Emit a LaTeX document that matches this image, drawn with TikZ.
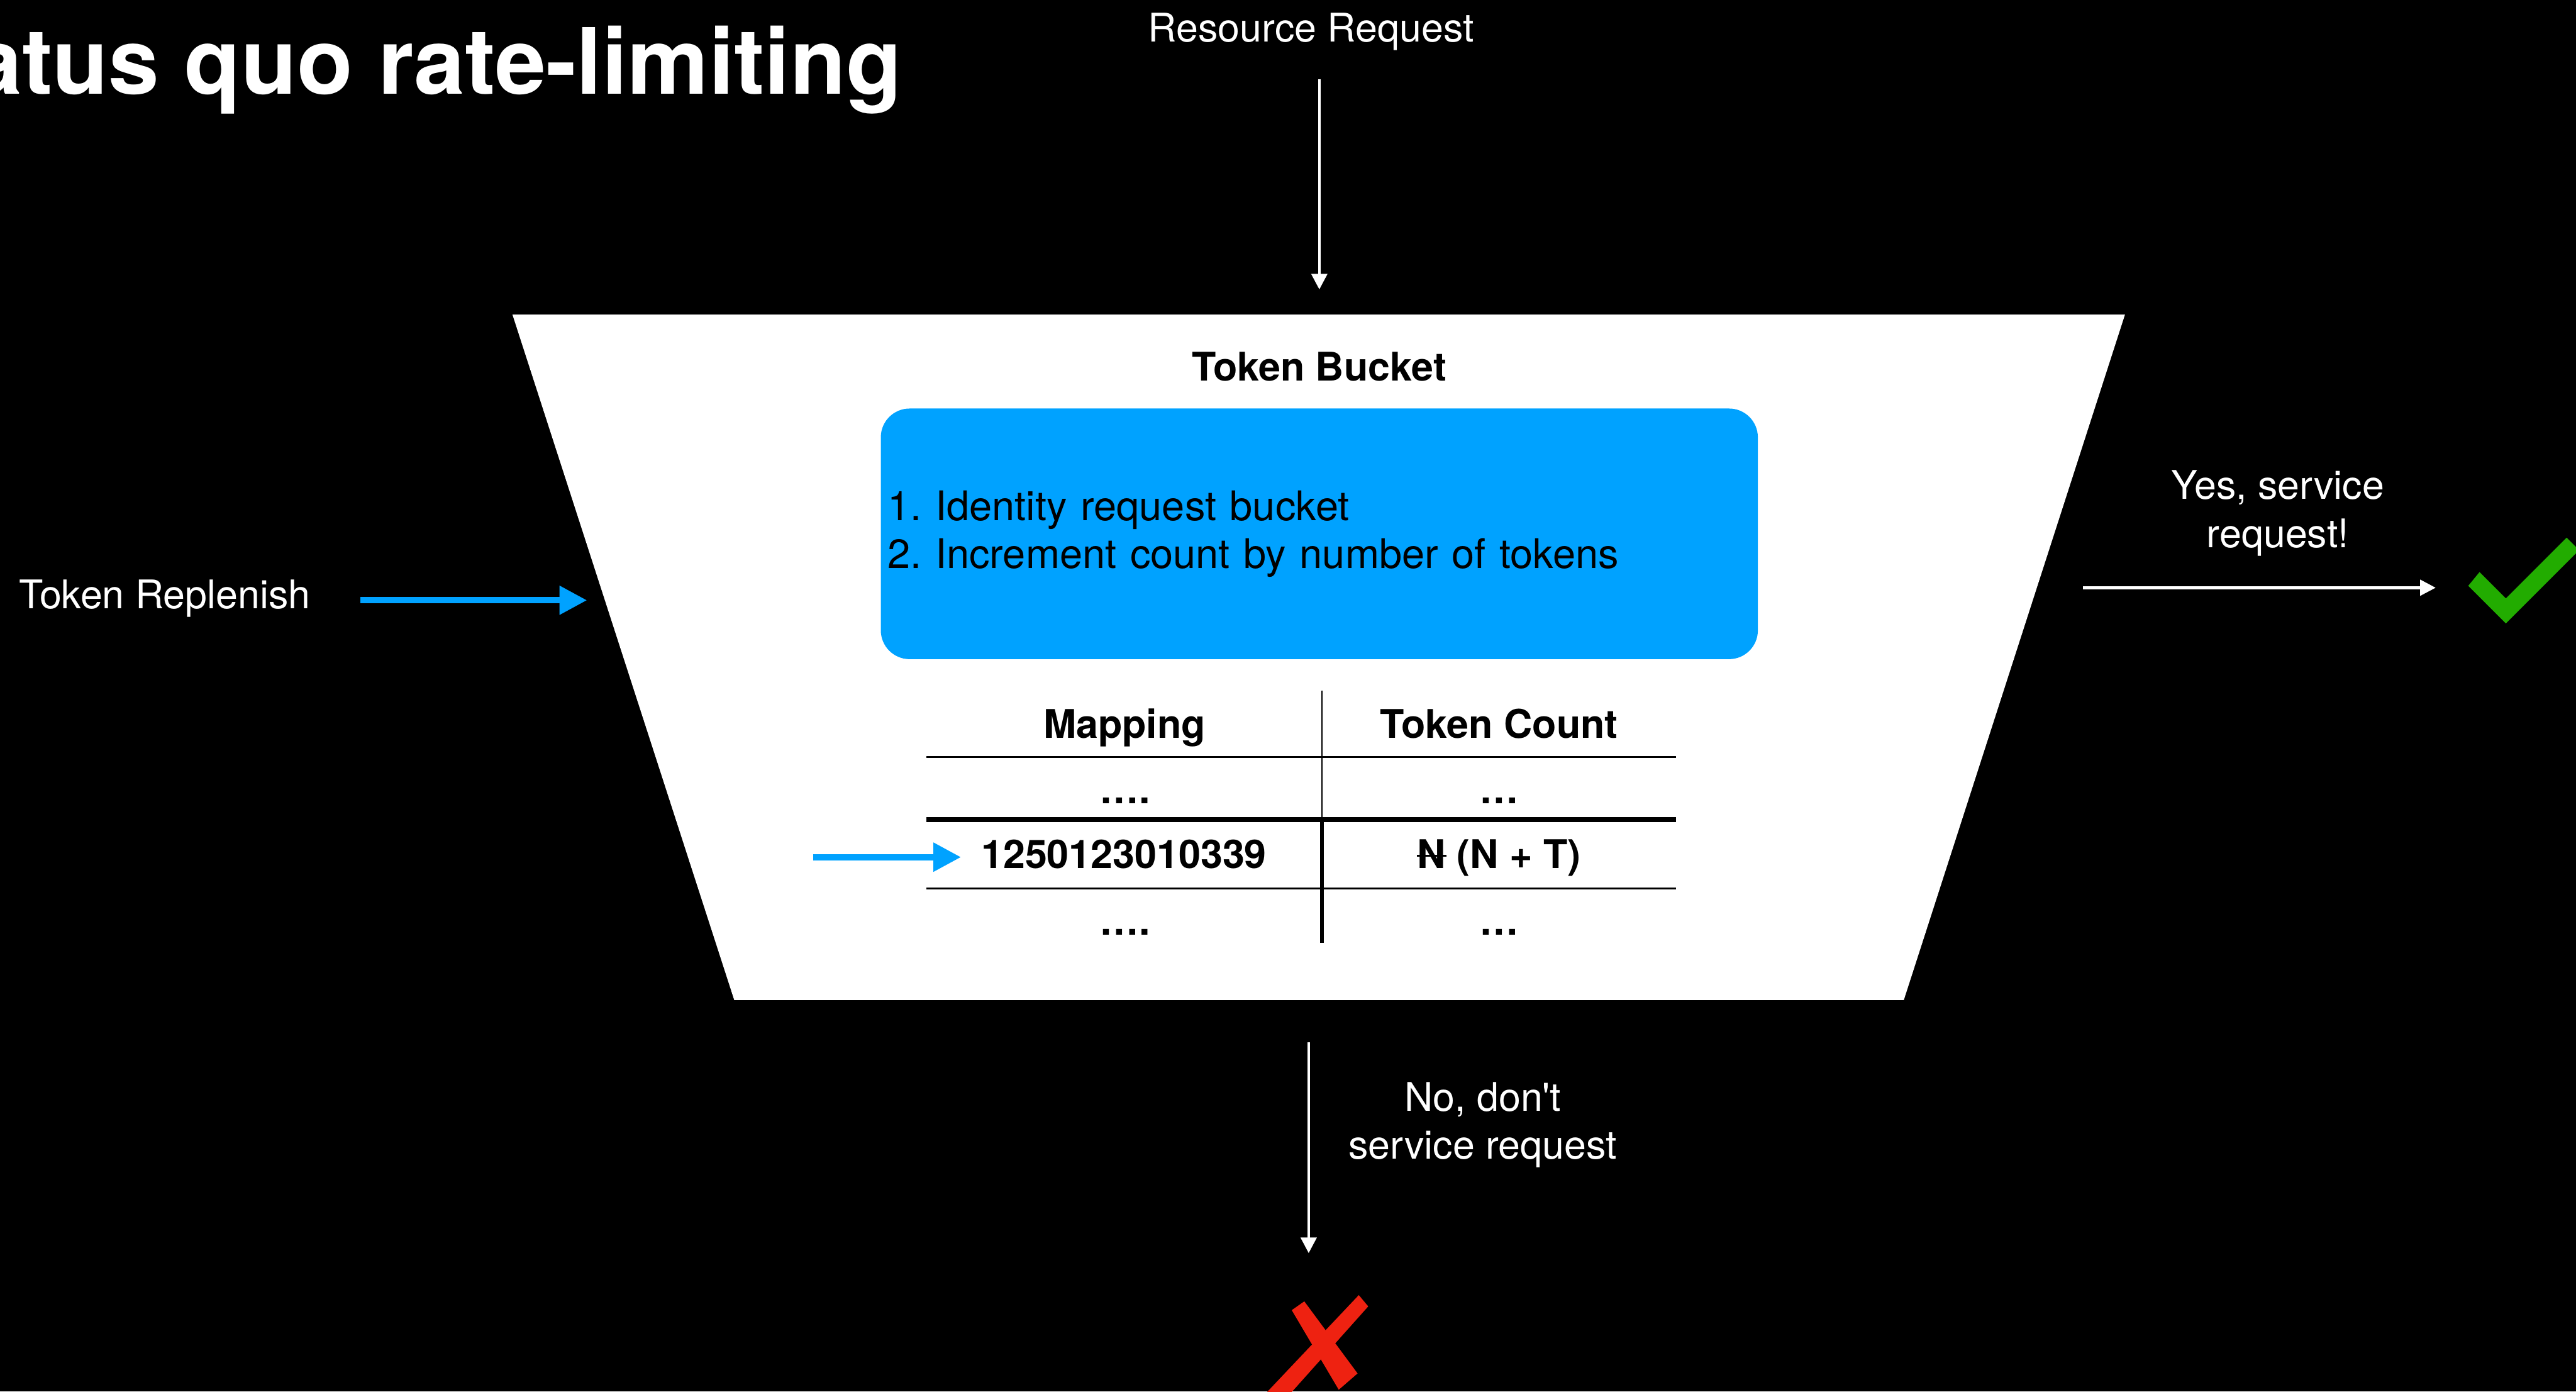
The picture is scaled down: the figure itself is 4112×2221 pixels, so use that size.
\documentclass[tikz,border=0pt]{standalone}
\usepackage{fontspec}
\setmainfont{TeX Gyre Heros}
\usetikzlibrary{arrows.meta}
\definecolor{kblue}{RGB}{0,162,255}
\definecolor{kgreen}{RGB}{34,172,0}
\definecolor{kred}{RGB}{238,34,17}
\frenchspacing
\begin{document}
\begin{tikzpicture}[x=0.5pt,y=-0.5pt,
  lbl/.style={text=white, font=\fontsize{31.5}{38.5}\selectfont, inner sep=0pt, anchor=base},
  hdr/.style={text=black, font=\bfseries\fontsize{31.5}{38}\selectfont, inner sep=0pt, anchor=base},
  warrow/.style={draw=white, line width=2.25pt, -{Triangle[length=12.5pt,width=12.5pt]}},
  barrow/.style={draw=kblue, line width=5pt, -{Triangle[length=22pt,width=22pt]}},
  thinrule/.style={draw=black, line width=1.2pt},
  thickrule/.style={draw=black, line width=3.8pt},
]
\fill[black] (0,0) rectangle (4112,2221);
\clip (0,0) rectangle (4112,2221);

% title
\node[anchor=base east, inner sep=0pt, text=white, font=\bfseries\fontsize{73}{88}\selectfont] (title) at (1440,150) {Status quo rate-limiting};

% bucket
\coordinate (bTL) at (818,502);
\coordinate (bTR) at (3392,502);
\coordinate (bBR) at (3039,1596);
\coordinate (bBL) at (1172,1596);
\fill[white] (bTL) -- (bTR) -- (bBR) -- (bBL) -- cycle;

\node[hdr] (bucketTitle) at (2106,608) {Token Bucket};

\node[fill=kblue, rounded corners=23pt, minimum width=700pt, minimum height=200pt,
      text width=689pt, inner xsep=5.5pt, inner ysep=0pt, align=left,
      font=\fontsize{32.6}{38}\selectfont, text=black] (steps) at (2106,852)
      {1. Identity request bucket\\2. Increment count by number of tokens};

% resource request
\node[lbl] (resreq) at (2093,67) {Resource Request};
\coordinate (rrA) at (2106,126);
\coordinate (rrB) at (2106,462);
\draw[warrow] (rrA) -- (rrB);

% token replenish
\node[lbl] (replenish) at (263,971) {Token Replenish};
\coordinate (trA) at (575,958);
\coordinate (trB) at (937,958);
\draw[barrow] (trA) -- (trB);

% table
\node[hdr] (hMap) at (1795,1178) {Mapping};
\node[hdr] (hCount) at (2393,1178) {Token Count};
\draw[thinrule] (1479,1208) -- (2675,1208);
\draw[thickrule] (1479,1308) -- (2675,1308);
\draw[thinrule] (1479,1418) -- (2675,1418);
\draw[black, line width=1.25pt] (2110,1102) -- (2110,1308);
\draw[black, line width=3.3pt] (2110,1308) -- (2110,1505);

\node[hdr] (r1a) at (1796,1282) {….};
\node[hdr] (r1b) at (2393,1282) {…};
\node[hdr] (r2a) at (1794,1386) {1250123010339};
\node[hdr] (r2b) at (2393,1386) {\rlap{\kern-0.02em\rule[0.3em]{0.76em}{0.05em}}N (N + T)};
\node[hdr] (r3a) at (1796,1492) {….};
\node[hdr] (r3b) at (2393,1492) {…};
\coordinate (idA) at (1298,1368);
\coordinate (idB) at (1534,1368);
\draw[barrow] (idA) -- (idB);

% yes branch (base anchor = last line)
\node[lbl, align=center] (yes) at (3636,874) {Yes, service\\request!};
\coordinate (yA) at (3325,938);
\coordinate (yB) at (3888,938);
\draw[warrow] (yA) -- (yB);
\fill[kgreen] (3940,935) -- (4000,995) -- (4117,878) -- (4097,858) -- (4000,955) -- (3958,913) -- cycle;

% no branch (base anchor = last line)
\node[lbl, align=center] (no) at (2367,1850) {No, don\textquotesingle t\\service request};
\coordinate (nA) at (2089,1663);
\coordinate (nB) at (2089,2000);
\draw[warrow] (nA) -- (nB);
\fill[kred] (2062,2091) -- (2082,2077) -- (2167,2192) -- (2137,2218) -- cycle;
\fill[kred] (2169,2067) -- (2184,2085) -- (2050,2235) -- (2010,2235) -- cycle;
\end{tikzpicture}
\end{document}
